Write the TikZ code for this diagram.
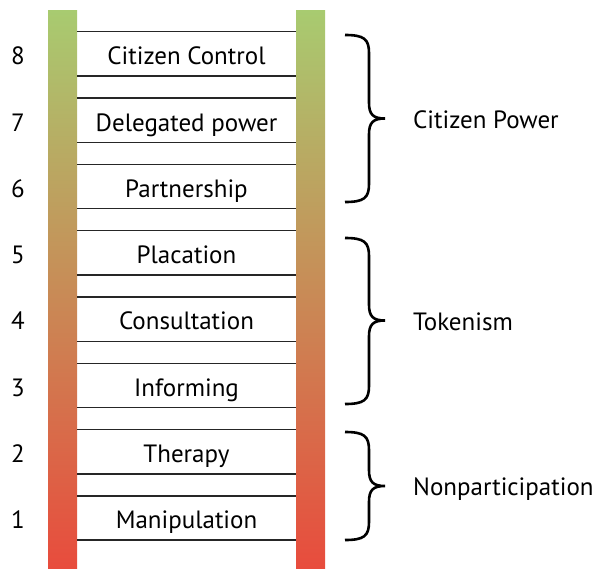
\documentclass[tikz,border=0pt]{standalone}
\usepackage{fontspec}
\setmainfont{PT Sans}
\definecolor{railtop}{HTML}{A8CB70}
\definecolor{railmid}{HTML}{DD8A52}
\definecolor{railbot}{HTML}{E84C3D}
\tikzset{
  rail/.style={top color=railtop, middle color=railmid, bottom color=railbot, draw=none},
  rung/.style={draw=black!85, line width=1.4pt},
  steplabel/.style={font=\fontsize{25}{28}\selectfont, inner sep=0pt, anchor=base},
  numlabel/.style={font=\fontsize{25}{28}\selectfont, inner sep=0pt, anchor=base},
  grouplabel/.style={font=\fontsize{25}{28}\selectfont, inner sep=0pt, anchor=base west},
  bracepath/.style={draw=black, line width=2.6pt}
}
\begin{document}
\begin{tikzpicture}[x=1pt,y=-1pt]
\useasboundingbox (0,0) rectangle (608,568);
\shade[rail] (48,10) rectangle (77,568);
\shade[rail] (296,10) rectangle (325,568);
\foreach \n/\t [count=\i from 0] in {8/Citizen Control,7/Delegated power,6/Partnership,5/Placation,4/Consultation,3/Informing,2/Therapy,1/Manipulation}{
  \pgfmathsetmacro{\ytop}{31.7+66.3*\i}
  \pgfmathsetmacro{\ybot}{\ytop+44.3}
  \pgfmathsetmacro{\ybase}{\ytop+33}
  \coordinate (tl\n) at (77,\ytop);
  \coordinate (tr\n) at (296,\ytop);
  \coordinate (bl\n) at (77,\ybot);
  \coordinate (br\n) at (296,\ybot);
  \draw[rung] (tl\n) -- (tr\n);
  \draw[rung] (bl\n) -- (br\n);
  \node[steplabel] (s\n) at (186.5,\ybase) {\t};
  \node[numlabel] (n\n) at (18,\ybase) {\n};
}
% braces
\foreach \t/\m/\b/\lab/\nm in {35/118.5/202/Citizen Power/cp,238/320.5/404/Tokenism/tk,432/486/540/Nonparticipation/np}{
  \draw[bracepath] (345,\t) .. controls (364,\t) and (369,\t+4) .. (369,\t+18)
     -- (369,\m-16) .. controls (369,\m-4) and (373,\m) .. (385,\m)
     .. controls (373,\m) and (369,\m+4) .. (369,\m+16)
     -- (369,\b-18) .. controls (369,\b-4) and (364,\b) .. (345,\b);
  \node[grouplabel] (\nm) at (413,\m+9.5) {\lab};
}
\end{tikzpicture}
\end{document}
